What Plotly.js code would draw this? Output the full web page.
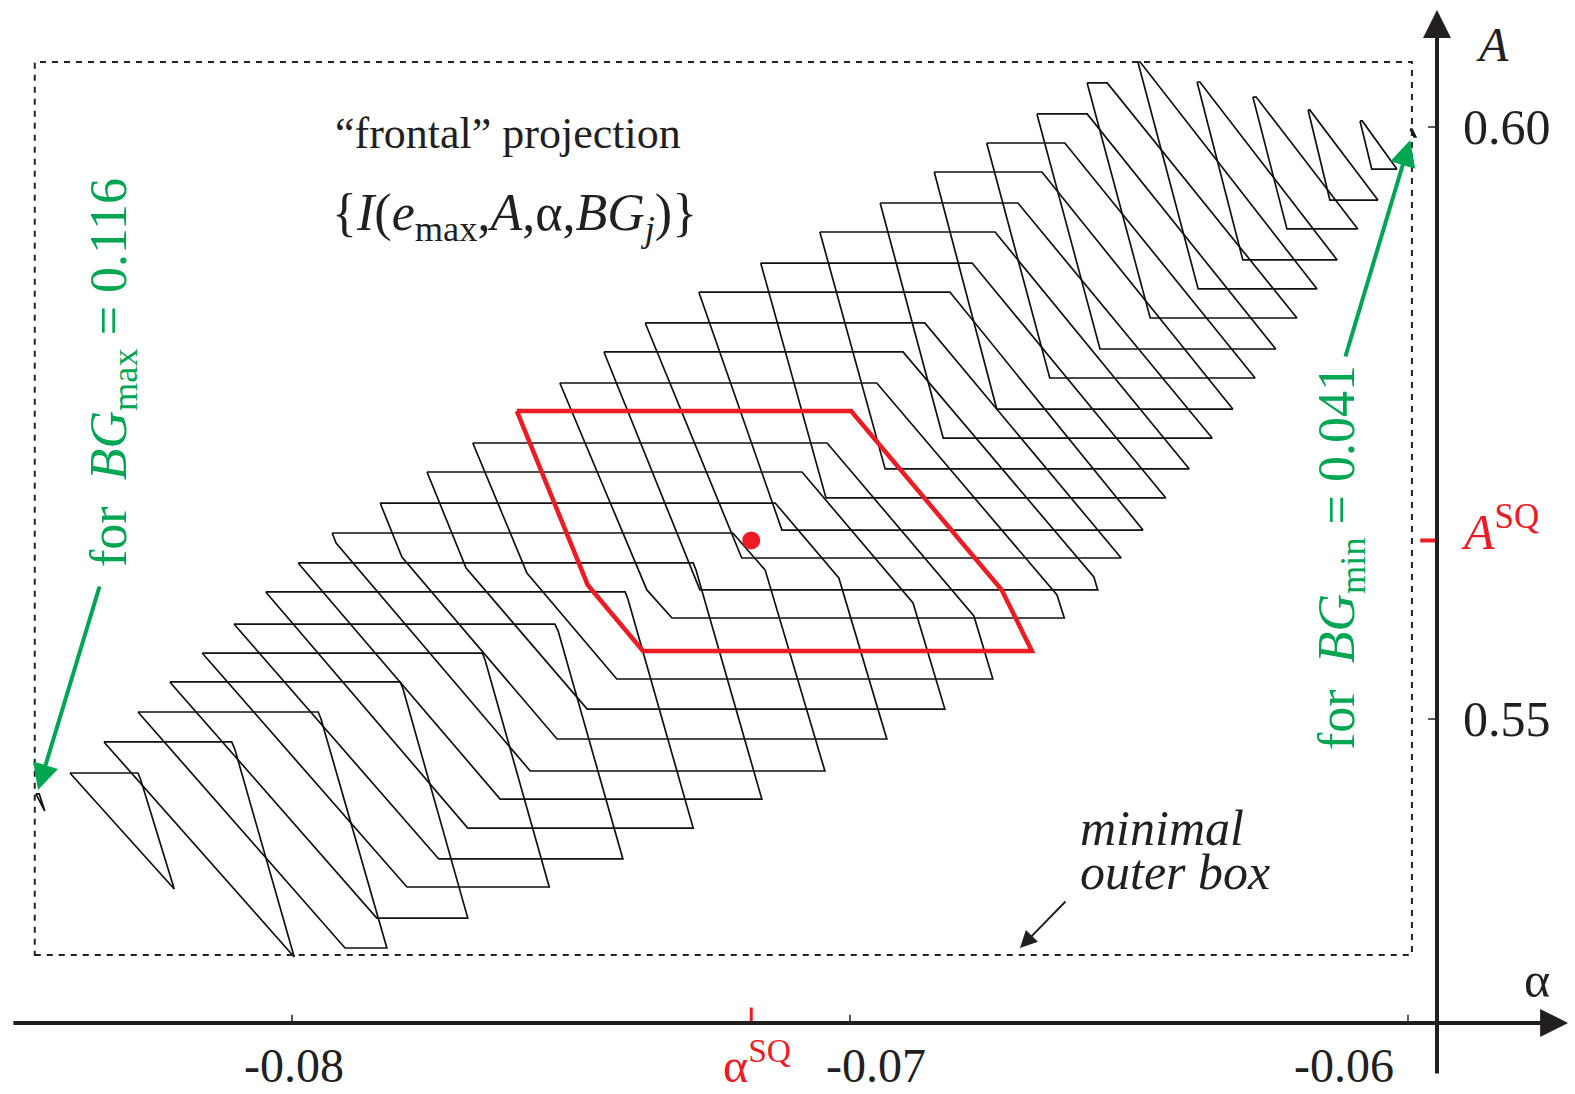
<!DOCTYPE html>
<html><head><meta charset="utf-8">
<script src="https://cdn.plot.ly/plotly-3.0.1.min.js"></script>
<style>html,body{margin:0;padding:0;background:#fff}#chart{width:1575px;height:1094px}</style>
</head><body><div id="chart"></div>
<script>
// ---- data: one closed region I(e_max, A, alpha, BG_j) per BG level, from BG_max (first) to BG_min (last)
const aTop = [0.54367,0.54544,0.54806,0.55059,0.55313,0.55557,0.55802,0.56073,0.56318,0.56571,0.56824,0.57086,0.57331,0.57601,0.57838,0.58100,0.58345,0.58606,0.58851,0.59113,0.59358,0.59620,0.59865,0.60110,0.60372,0.60549,0.60380,0.60253,0.60144,0.60051,0.59983];
const aBot = [0.54223,0.53564,0.52990,0.53066,0.53319,0.53581,0.53818,0.54079,0.54324,0.54561,0.54831,0.55084,0.55338,0.55583,0.55853,0.56090,0.56360,0.56596,0.56867,0.57112,0.57373,0.57618,0.57880,0.58125,0.58387,0.58632,0.58877,0.59139,0.59383,0.59645,0.59916];
const alphaT1 = [-0.08459,-0.08398,-0.08337,-0.08276,-0.08219,-0.08161,-0.08104,-0.08047,-0.07989,-0.07928,-0.07842,-0.07758,-0.07676,-0.07597,-0.07520,-0.07441,-0.07367,-0.07271,-0.07160,-0.07054,-0.06946,-0.06849,-0.06755,-0.06665,-0.06575,-0.06484,-0.06378,-0.06278,-0.06179,-0.06086,-0.05996];
const alphaT2 = [-0.08453,-0.08276,-0.08108,-0.07953,-0.07806,-0.07659,-0.07529,-0.07403,-0.07281,-0.07210,-0.07134,-0.07086,-0.07041,-0.06998,-0.06952,-0.06905,-0.06866,-0.06821,-0.06781,-0.06740,-0.06699,-0.06656,-0.06615,-0.06575,-0.06539,-0.06480,-0.06373,-0.06272,-0.06176,-0.06082,-0.05993];
const alphaB2 = [-0.08443,-0.08211,-0.07996,-0.07830,-0.07685,-0.07539,-0.07407,-0.07281,-0.07158,-0.07045,-0.06934,-0.06830,-0.06744,-0.06674,-0.06616,-0.06556,-0.06514,-0.06475,-0.06434,-0.06392,-0.06351,-0.06314,-0.06274,-0.06237,-0.06199,-0.06163,-0.06127,-0.06090,-0.06054,-0.06020,-0.05986];
const alphaB1 = [-0.08443,-0.08211,-0.07996,-0.07905,-0.07848,-0.07794,-0.07737,-0.07685,-0.07627,-0.07573,-0.07525,-0.07471,-0.07418,-0.07371,-0.07319,-0.07269,-0.07194,-0.07122,-0.07043,-0.06937,-0.06833,-0.06737,-0.06642,-0.06552,-0.06462,-0.06376,-0.06296,-0.06217,-0.06140,-0.06065,-0.05989];
// right-side kink (alpha, A) between the upper slanted edge and the steep edge; null = none
const kinkRAlpha = [null,-0.08271,-0.08102,-0.07948,-0.07801,-0.07654,-0.07523,-0.07398,-0.07276,-0.07152,-0.07020,-0.06887,-0.06778,-0.06728,-0.06629,-0.06563,null,null,null,null,null,null,null,null,null,null,null,null,null,null,null];
const kinkRA     = [null,0.54485,0.54738,0.55000,0.55253,0.55498,0.55743,0.56014,0.56258,0.56258,0.56191,0.55980,0.55870,0.56090,0.56047,0.56199,null,null,null,null,null,null,null,null,null,null,null,null,null,null,null];
// left-side kink (alpha, A) between the steep edge and the lower slanted edge; null = none
const kinkLAlpha = [null,null,null,null,null,null,null,null,null,-0.07921,-0.07803,-0.07688,-0.07579,-0.07470,-0.07364,null,null,null,null,null,null,null,null,null,null,null,null,null,null,null,null];
const kinkLA     = [null,null,null,null,null,null,null,null,null,0.56487,0.56368,0.56275,0.56233,0.56132,0.56090,null,null,null,null,null,null,null,null,null,null,null,null,null,null,null,null];

// status-quo region (red) and SQ point
const sqAlpha = [-0.07597,-0.06998,-0.06728,-0.06674,-0.07371,-0.07470,-0.07597];
const sqA     = [0.57601,0.57601,0.56090,0.55574,0.55574,0.56132,0.57601];
const alphaSQ = -0.07177;
const aSQ = 0.56508;

// minimal outer box
const boxAlpha = [-0.08461,-0.05993];
const boxA = [0.53007,0.60549];

// axes
const xTicks = [-0.08,-0.07,-0.06];
const xTickLabels = ['-0.08','-0.07','-0.06'];
const xTickLabelAlpha = [-0.07996,-0.069534,-0.061147];
const yTicks = [0.60,0.55];
const yTickLabels = ['0.60','0.55'];
const axisA = 0.52433;       // A where the alpha axis is drawn
const axisAlpha = -0.05948;  // alpha where the A axis is drawn

const SERIF = 'Liberation Serif, Times New Roman, serif';
const GREEN = '#00a651';
const RED = '#ed1c24';

const traces = [];
for (let k = 0; k < aTop.length; k++) {
  const xs = [alphaT1[k], alphaT2[k]], ys = [aTop[k], aTop[k]];
  if (kinkRAlpha[k] !== null) { xs.push(kinkRAlpha[k]); ys.push(kinkRA[k]); }
  xs.push(alphaB2[k]); ys.push(aBot[k]);
  xs.push(alphaB1[k]); ys.push(aBot[k]);
  if (kinkLAlpha[k] !== null) { xs.push(kinkLAlpha[k]); ys.push(kinkLA[k]); }
  xs.push(alphaT1[k]); ys.push(aTop[k]);
  traces.push({type:'scatter', mode:'lines', x:xs, y:ys, line:{color:'#111', width:1.7},
    hoverinfo:'skip', showlegend:false});
}
traces.push({type:'scatter', mode:'lines', x:sqAlpha, y:sqA, line:{color:RED, width:4.5},
  hoverinfo:'skip', showlegend:false});
traces.push({type:'scatter', mode:'markers', x:[alphaSQ], y:[aSQ], marker:{color:RED, size:18},
  hoverinfo:'skip', showlegend:false});

const shapes = [];
shapes.push({type:'rect', xref:'x', yref:'y', x0:boxAlpha[0], x1:boxAlpha[1], y0:boxA[0], y1:boxA[1],
  line:{color:'#222', width:2, dash:'6px,6px'}});
xTicks.forEach(t => shapes.push({type:'line', xref:'x', yref:'y', x0:t, x1:t, y0:axisA, y1:axisA+0.0007,
  line:{color:'#222', width:1.5}}));
yTicks.forEach(t => shapes.push({type:'line', xref:'x', yref:'y', x0:axisAlpha-0.00016, x1:axisAlpha, y0:t, y1:t,
  line:{color:'#222', width:1.5}}));
shapes.push({type:'line', xref:'x', yref:'y', x0:alphaSQ, x1:alphaSQ, y0:axisA, y1:axisA+0.0013,
  line:{color:RED, width:3}});
shapes.push({type:'line', xref:'x', yref:'y', x0:axisAlpha-0.00030, x1:axisAlpha, y0:aSQ, y1:aSQ,
  line:{color:RED, width:4}});

const ann = [];
// axis arrows
ann.push({x:-0.05713, y:axisA, ax:-0.08502, ay:axisA, xref:'x', yref:'y', axref:'x', ayref:'y',
  text:'', showarrow:true, arrowhead:2, arrowsize:1.4, arrowwidth:4, arrowcolor:'#231f20'});
ann.push({x:axisAlpha, y:0.60988, ax:axisAlpha, ay:0.51993, xref:'x', yref:'y', axref:'x', ayref:'y',
  text:'', showarrow:true, arrowhead:2, arrowsize:1.4, arrowwidth:4, arrowcolor:'#231f20'});
// green arrows
ann.push({x:-0.084552, y:0.543996, ax:-0.083441, ay:0.561318, xref:'x', yref:'y', axref:'x', ayref:'y',
  text:'', showarrow:true, arrowhead:2, arrowsize:1.3, arrowwidth:4, arrowcolor:GREEN});
ann.push({x:-0.05996, y:0.59890, ax:-0.061129, ay:0.58049, xref:'x', yref:'y', axref:'x', ayref:'y',
  text:'', showarrow:true, arrowhead:2, arrowsize:1.3, arrowwidth:4, arrowcolor:GREEN});
// outer box arrow
ann.push({x:-0.066953, y:0.53066, ax:-0.066111, ay:0.53471, xref:'x', yref:'y', axref:'x', ayref:'y',
  text:'', showarrow:true, arrowhead:2, arrowsize:1.7, arrowwidth:2, arrowcolor:'#231f20'});

// texts
const txt = (x, y, text, size, color, extra) => Object.assign({x, y, xref:'x', yref:'y', text, showarrow:false,
  font:{family:SERIF, size, color: color || '#231f20'}}, extra || {});
ann.push(txt(-0.076129, 0.59949, '\u201Cfrontal\u201D projection', 44));
ann.push(txt(-0.076004, 0.59240, '{<i>I</i>(<i>e</i><sub>max</sub>,<i>A</i>,\u03B1,<i>BG<sub>j</sub></i>)}', 52));
ann.push(txt(-0.065914, 0.54079, '<i>minimal</i>', 50, null, {xanchor:'left'}));
ann.push(txt(-0.065914, 0.53708, '<i>outer box</i>', 50, null, {xanchor:'left'}));
ann.push(txt(-0.083208, 0.57931, 'for  <i>BG</i><sub>max</sub> = 0.116', 52, GREEN, {textangle:-90}));
ann.push(txt(-0.061219, 0.56368, 'for  <i>BG</i><sub>min</sub> = 0.041', 52, GREEN, {textangle:-90}));
ann.push(txt(-0.058477, 0.60693, '<i>A</i>', 48));
ann.push(txt(-0.057688, 0.52796, '\u03B1', 50));
yTicks.forEach((t, i) => ann.push(txt(-0.058226, t, yTickLabels[i], 50)));
xTicks.forEach((t, i) => ann.push(txt(xTickLabelAlpha[i], 0.518328, xTickLabels[i], 48, null, {yanchor:'bottom'})));
ann.push(txt(-0.058351, 0.56613, '<i>A</i><sup>SQ</sup>', 50, RED));
ann.push(txt(-0.071667, 0.518328, '\u03B1<sup>SQ</sup>', 48, RED, {yanchor:'bottom'}));

const layout = {
  width:1575, height:1094, margin:{l:0, r:0, t:0, b:0, pad:0},
  paper_bgcolor:'#fff', plot_bgcolor:'#fff', showlegend:false,
  xaxis:{range:[-0.085233,-0.057007], visible:false, fixedrange:true},
  yaxis:{range:[0.518328,0.610726], visible:false, fixedrange:true},
  shapes, annotations:ann
};
Plotly.newPlot('chart', traces, layout, {staticPlot:true, displayModeBar:false});
</script></body></html>
